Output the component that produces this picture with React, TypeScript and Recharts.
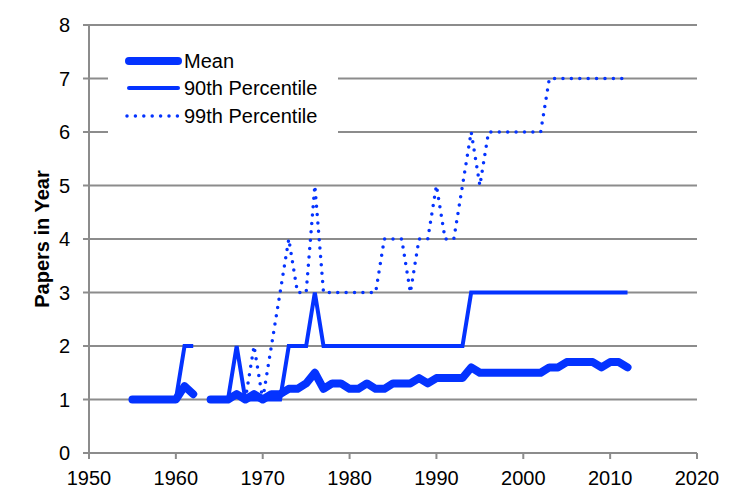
import React from 'react'
import { CartesianGrid, Label, Line, LineChart, XAxis, YAxis } from 'recharts'

const years = [
  1955, 1956, 1957, 1958, 1959, 1960, 1961, 1962, 1963, 1964, 1965, 1966, 1967, 1968, 1969,
  1970, 1971, 1972, 1973, 1974, 1975, 1976, 1977, 1978, 1979, 1980, 1981, 1982, 1983, 1984,
  1985, 1986, 1987, 1988, 1989, 1990, 1991, 1992, 1993, 1994, 1995, 1996, 1997, 1998, 1999,
  2000, 2001, 2002, 2003, 2004, 2005, 2006, 2007, 2008, 2009, 2010, 2011, 2012,
]

const mean = [
  1, 1, 1, 1, 1, 1, 1.25, 1.1, null, 1, 1, 1, 1.1, 1, 1.1,
  1, 1.1, 1.1, 1.2, 1.2, 1.3, 1.5, 1.2, 1.3, 1.3, 1.2, 1.2, 1.3, 1.2, 1.2,
  1.3, 1.3, 1.3, 1.4, 1.3, 1.4, 1.4, 1.4, 1.4, 1.6, 1.5, 1.5, 1.5, 1.5, 1.5,
  1.5, 1.5, 1.5, 1.6, 1.6, 1.7, 1.7, 1.7, 1.7, 1.6, 1.7, 1.7, 1.6,
]

const p90 = [
  1, 1, 1, 1, 1, 1, 2, 2, null, 1, 1, 1, 2, 1, 1,
  1, 1, 1, 2, 2, 2, 3, 2, 2, 2, 2, 2, 2, 2, 2,
  2, 2, 2, 2, 2, 2, 2, 2, 2, 3, 3, 3, 3, 3, 3,
  3, 3, 3, 3, 3, 3, 3, 3, 3, 3, 3, 3, 3,
]

const p99 = [
  null, null, null, null, null, null, null, null, null, null, null, null, null, 1, 2,
  1, 2, 3, 4, 3, 3, 5, 3, 3, 3, 3, 3, 3, 3, 4,
  4, 4, 3, 4, 4, 5, 4, 4, 5, 6, 5, 6, 6, 6, 6,
  6, 6, 6, 7, 7, 7, 7, 7, 7, 7, 7, 7, 7,
]

const xTicks = [1950, 1960, 1970, 1980, 1990, 2000, 2010, 2020]
const yTicks = [0, 1, 2, 3, 4, 5, 6, 7, 8]

const data = years.map((year, i) => ({ year, mean: mean[i], p90: p90[i], p99: p99[i] }))

const BLUE = '#0433ff'
const GRAY = '#8c8c8c'
const FONT = '"Liberation Sans", Arial, sans-serif'

const legendItems = [
  { name: 'Mean', width: 8, dash: undefined },
  { name: '90th Percentile', width: 4, dash: undefined },
  { name: '99th Percentile', width: 3.5, dash: '0 8.4' },
]

// legend drawn as an overlay, with a white box that hides the gridline behind it
const ChartLegend = () => (
  <div
    style={{
      position: 'absolute',
      left: 100,
      top: 36,
      width: 230,
      padding: '3px 0',
      background: '#fff',
      fontFamily: FONT,
    }}
  >
    {legendItems.map((item) => (
      <div key={item.name} style={{ display: 'flex', alignItems: 'center', height: 27.5 }}>
        <svg width={76} height={12} style={{ display: 'block' }}>
          <line
            x1={item.dash ? 19 : 21}
            x2={item.dash ? 71 : 70}
            y1={6}
            y2={6}
            stroke={BLUE}
            strokeWidth={item.width}
            strokeLinecap="round"
            strokeDasharray={item.dash}
          />
        </svg>
        <span style={{ fontSize: 20, color: '#000', lineHeight: '20px' }}>{item.name}</span>
      </div>
    ))}
  </div>
)

const YLabel = (props: any) => {
  const { viewBox } = props
  const cx = viewBox.x + 34
  const cy = viewBox.y + viewBox.height / 2
  return (
    <text
      x={cx}
      y={cy}
      transform={`rotate(-90, ${cx}, ${cy})`}
      textAnchor="middle"
      dominantBaseline="central"
      fontSize={20}
      fontWeight="bold"
      fill="#000"
      fontFamily={FONT}
    >
      Papers in Year
    </text>
  )
}

const PapersChart = () => {
  const tick = { fontSize: 20, fill: '#000', fontFamily: FONT }
  return (
    <div style={{ position: 'relative', width: 731, height: 488, fontFamily: FONT }}>
      <LineChart width={731} height={488} data={data} margin={{ top: 17, right: 42, bottom: 12, left: 0 }}>
        <CartesianGrid vertical={false} stroke={GRAY} strokeWidth={2} />
        <XAxis
          dataKey="year"
          type="number"
          domain={[1950, 2020]}
          ticks={xTicks}
          height={31}
          tick={tick}
          tickMargin={12}
          stroke={GRAY}
          strokeWidth={2}
          tickSize={6}
        />
        <YAxis
          domain={[0, 8]}
          ticks={yTicks}
          width={81}
          tick={tick}
          tickMargin={13}
          stroke={GRAY}
          strokeWidth={2}
          tickSize={6}
        >
          <Label content={YLabel} />
        </YAxis>
        <Line
          dataKey="p99"
          stroke={BLUE}
          strokeWidth={3.5}
          strokeDasharray="0 8.4"
          strokeLinecap="round"
          dot={false}
          activeDot={false}
          isAnimationActive={false}
        />
        <Line
          dataKey="p90"
          stroke={BLUE}
          strokeWidth={4}
          dot={false}
          activeDot={false}
          isAnimationActive={false}
        />
        <Line
          dataKey="mean"
          stroke={BLUE}
          strokeWidth={8}
          strokeLinecap="round"
          strokeLinejoin="round"
          dot={false}
          activeDot={false}
          isAnimationActive={false}
        />
      </LineChart>
      <ChartLegend />
    </div>
  )
}

export default function App() {
  return <PapersChart />
}
